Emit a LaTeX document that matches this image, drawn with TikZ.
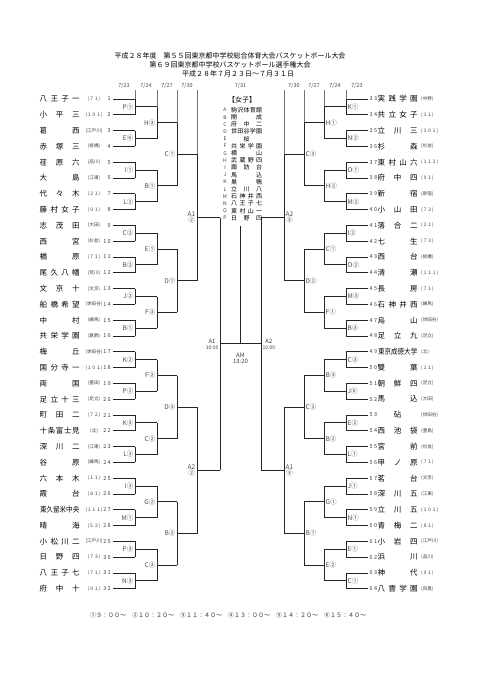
\documentclass[tikz,border=0pt]{standalone}
\usepackage{fontspec}
\usepackage{graphicx}
\newfontfamily\jp{Noto Sans CJK JP}
\newcommand\tnum[1]{\pgfmathtruncatemacro\tnA{int(#1/10)}\pgfmathtruncatemacro\tnB{mod(#1,10)}\ifnum#1<10 #1\else\tnA\hspace{1.3pt}\tnB\fi}
\tikzset{
 nm/.style={font=\jp\fontsize{7.5}{8}\selectfont, inner sep=0pt},
 cd/.style={font=\jp\fontsize{4.6}{5}\selectfont, inner sep=0pt, text=black!75},
 num/.style={font=\jp\fontsize{5.5}{6}\selectfont, inner sep=0pt, text=black!75},
 lb/.style={font=\jp\fontsize{6.5}{7}\selectfont, inner sep=0pt, text=black!70},
 lb4/.style={font=\jp\fontsize{6.5}{6.5}\selectfont, inner sep=0pt, text=black!70, align=center},
 br/.style={line width=0.9pt, black!85},
 sep/.style={line width=0.4pt, black!55},
 dt/.style={font=\jp\fontsize{5.5}{6}\selectfont, inner sep=0pt, text=black!70},
 hd/.style={font=\jp\fontsize{7}{8}\selectfont, inner sep=0pt},
 lgh/.style={font=\jp\fontsize{7}{8}\selectfont, inner sep=0pt},
 lgl/.style={font=\jp\fontsize{5}{6}\selectfont, inner sep=0pt, text=black!75},
 lgn/.style={font=\jp\fontsize{6}{7}\selectfont, inner sep=0pt},
 fin/.style={font=\jp\fontsize{6}{6.5}\selectfont, inner sep=0pt, text=black!75, align=center},
}
\begin{document}
\begin{tikzpicture}[x=1pt,y=-1pt]
\useasboundingbox (0,0) rectangle (481,680);
\fill[white] (0,0) rectangle (481,680);
% header
\node[hd] (t1) at (230,56) {平成２８年度　第５５回東京都中学校総合体育大会バスケットボール大会};
\node[hd] (t2) at (230,65) {第６９回東京都中学校バスケットボール選手権大会};
\node[hd] (t3) at (238,73.5) {平成２８年７月２３日～７月３１日};
% dates
\foreach \x/\d [count=\n] in {124/{7/23},146/{7/24},167/{7/27},187/{7/30},240.5/{7/31},294/{7/30},314/{7/27},335/{7/24},357/{7/23}}{
 \node[dt] (d\n) at (\x,86) {\d};
}
% separators
\draw[sep] (135,90) -- (135,99) (157,90) -- (157,106.9) (177,90) -- (177,122.7) (197,90) -- (197,154.3);
\draw[sep] (346,90) -- (346,99) (324,90) -- (324,106.9) (304,90) -- (304,122.7) (284,90) -- (284,154.3);
% left teams
\foreach \i/\nm/\cd in {
 1/{八\hfill 王\hfill 子\hfill 一}/{(７１)},
 2/{小\hfill 平\hfill 三}/{(１０１)},
 3/{葛\hfill 西}/{(江戸川)},
 4/{赤\hfill 塚\hfill 三}/{(板橋)},
 5/{荏\hfill 原\hfill 六}/{(品川)},
 6/{大\hfill 島}/{(江東)},
 7/{代\hfill 々\hfill 木}/{(２１)},
 8/{藤\hfill 村\hfill 女\hfill 子}/{(９１)},
 9/{志\hfill 茂\hfill 田}/{(大田)},
 10/{西\hfill 宮}/{(杉並)},
 11/{楢\hfill 原}/{(７１)},
 12/{尾\hfill 久\hfill 八\hfill 幡}/{(荒川)},
 13/{文\hfill 京\hfill 十}/{(文京)},
 14/{船\hfill 橋\hfill 希\hfill 望}/{(世田谷)},
 15/{中\hfill 村}/{(練馬)},
 16/{共\hfill 栄\hfill 学\hfill 園}/{(葛飾)},
 17/{梅\hfill 丘}/{(世田谷)},
 18/{国\hfill 分\hfill 寺\hfill 一}/{(１０１)},
 19/{両\hfill 国}/{(墨田)},
 20/{足\hfill 立\hfill 十\hfill 三}/{(足立)},
 21/{町\hfill 田\hfill 二}/{(７２)},
 22/{十\hfill 条\hfill 富\hfill 士\hfill 見}/{(北)},
 23/{深\hfill 川\hfill 二}/{(江東)},
 24/{谷\hfill 原}/{(練馬)},
 25/{六\hfill 本\hfill 木}/{(１１)},
 26/{霞\hfill 台}/{(８１)},
 27/{\scalebox{0.87}[1]{東久留米中央}}/{(１１１)},
 28/{晴\hfill 海}/{(５３)},
 29/{小\hfill 松\hfill 川\hfill 二}/{(江戸川)},
 30/{日\hfill 野\hfill 四}/{(７３)},
 31/{八\hfill 王\hfill 子\hfill 七}/{(７１)},
 32/{府\hfill 中\hfill 十}/{(９１)}}{
 \pgfmathsetmacro{\yy}{99+(\i-1)*15.8}
 \node[nm, anchor=west] (L\i) at (39.5,\yy) {\makebox[40pt]{\nm}};
 \node[cd] (LC\i) at (94,\yy) {\cd};
 \node[num, anchor=east] (LN\i) at (111,\yy) {\tnum{\i}};
 \draw[br] (113,\yy) -- (135,\yy);
}
% right teams
\foreach \i/\nm/\cd in {
 33/{実\hfill 践\hfill 学\hfill 園}/{(中野)},
 34/{共\hfill 立\hfill 女\hfill 子}/{(１１)},
 35/{立\hfill 川\hfill 三}/{(１０１)},
 36/{杉\hfill 森}/{(杉並)},
 37/{東\hfill 村\hfill 山\hfill 六}/{(１１２)},
 38/{府\hfill 中\hfill 四}/{(９１)},
 39/{新\hfill 宿}/{(新宿)},
 40/{小\hfill 山\hfill 田}/{(７２)},
 41/{落\hfill 合\hfill 二}/{(２１)},
 42/{七\hfill 生}/{(７３)},
 43/{西\hfill 台}/{(板橋)},
 44/{清\hfill 瀬}/{(１１１)},
 45/{長\hfill 房}/{(７１)},
 46/{石\hfill 神\hfill 井\hfill 西}/{(練馬)},
 47/{烏\hfill 山}/{(世田谷)},
 48/{足\hfill 立\hfill 九}/{(足立)},
 49/{\scalebox{0.87}[1]{東京成徳大学}}/{(北)},
 50/{雙\hfill 葉}/{(１１)},
 51/{朝\hfill 鮮\hfill 四}/{(足立)},
 52/{馬\hfill 込}/{(大田)},
 53/{\hfill 砧\hfill}/{(世田谷)},
 54/{西\hfill 池\hfill 袋}/{(豊島)},
 55/{宮\hfill 前}/{(杉並)},
 56/{甲\hfill ノ\hfill 原}/{(７１)},
 57/{茗\hfill 台}/{(文京)},
 58/{深\hfill 川\hfill 五}/{(江東)},
 59/{立\hfill 川\hfill 五}/{(１０１)},
 60/{青\hfill 梅\hfill 二}/{(８１)},
 61/{小\hfill 岩\hfill 四}/{(江戸川)},
 62/{浜\hfill 川}/{(品川)},
 63/{神\hfill 代}/{(９１)},
 64/{八\hfill 雲\hfill 学\hfill 園}/{(目黒)}}{
 \pgfmathsetmacro{\yy}{99+(\i-33)*15.8}
 \draw[br] (346,\yy) -- (368,\yy);
 \node[num, anchor=west] (RN\i) at (369.5,\yy) {\tnum{\i}};
 \node[nm, anchor=west] (R\i) at (377.5,\yy) {\makebox[40pt]{\nm}};
 \node[cd, anchor=west] (RC\i) at (421,\yy) {\cd};
}
% left bracket
\foreach \k/\lab in {1/P①,2/E⑥,3/I①,4/L②,5/C②,6/B②,7/J②,8/B①,9/K②,10/P②,11/K③,12/L③,13/I③,14/M①,15/P③,16/N③}{
 \pgfmathsetmacro{\ya}{99+(2*\k-2)*15.8}
 \pgfmathsetmacro{\yb}{\ya+15.8}
 \pgfmathsetmacro{\ym}{\ya+7.9}
 \draw[br] (135,\ya) -- (135,\yb) (135,\ym) -- (157,\ym);
 \node[lb, anchor=east] (LA\k) at (133.5,\ym) {\lab};
}
\foreach \k/\lab in {1/H③,2/B①,3/E①,4/F③,5/F②,6/C②,7/G②,8/C③}{
 \pgfmathsetmacro{\ya}{99+(4*\k-4)*15.8+7.9}
 \pgfmathsetmacro{\yb}{\ya+31.6}
 \pgfmathsetmacro{\ym}{\ya+15.8}
 \draw[br] (157,\ya) -- (157,\yb) (157,\ym) -- (177,\ym);
 \node[lb, anchor=east] (LB\k) at (155.5,\ym) {\lab};
}
\foreach \k/\lab in {1/C①,2/D①,3/D③,4/B②}{
 \pgfmathsetmacro{\ya}{99+(8*\k-8)*15.8+23.7}
 \pgfmathsetmacro{\yb}{\ya+63.2}
 \pgfmathsetmacro{\ym}{\ya+31.6}
 \draw[br] (177,\ya) -- (177,\yb) (177,\ym) -- (197,\ym);
 \node[lb, anchor=east] (LC\k) at (175.5,\ym) {\lab};
}
\foreach \k/\lab in {1/{A1\\②},2/{A2\\②}}{
 \pgfmathsetmacro{\ya}{99+(16*\k-16)*15.8+55.3}
 \pgfmathsetmacro{\yb}{\ya+126.4}
 \pgfmathsetmacro{\ym}{\ya+63.2}
 \draw[br] (197,\ya) -- (197,\yb) (197,\ym) -- (220,\ym);
 \node[lb4, anchor=east] (LD\k) at (195.5,\ym) {\lab};
}
% right bracket
\foreach \k/\lab in {1/K①,2/N②,3/O①,4/M②,5/I②,6/O②,7/M③,8/B③,9/C③,10/J⑥,11/E②,12/L①,13/J①,14/N①,15/E①,16/C①}{
 \pgfmathsetmacro{\ya}{99+(2*\k-2)*15.8}
 \pgfmathsetmacro{\yb}{\ya+15.8}
 \pgfmathsetmacro{\ym}{\ya+7.9}
 \draw[br] (346,\ya) -- (346,\yb) (346,\ym) -- (324,\ym);
 \node[lb, anchor=west] (RA\k) at (347.5,\ym) {\lab};
}
\foreach \k/\lab in {1/H①,2/H②,3/C①,4/F①,5/B③,6/B②,7/G①,8/E②}{
 \pgfmathsetmacro{\ya}{99+(4*\k-4)*15.8+7.9}
 \pgfmathsetmacro{\yb}{\ya+31.6}
 \pgfmathsetmacro{\ym}{\ya+15.8}
 \draw[br] (324,\ya) -- (324,\yb) (324,\ym) -- (304,\ym);
 \node[lb, anchor=west] (RB\k) at (325.5,\ym) {\lab};
}
\foreach \k/\lab in {1/C③,2/D②,3/C②,4/B①}{
 \pgfmathsetmacro{\ya}{99+(8*\k-8)*15.8+23.7}
 \pgfmathsetmacro{\yb}{\ya+63.2}
 \pgfmathsetmacro{\ym}{\ya+31.6}
 \draw[br] (304,\ya) -- (304,\yb) (304,\ym) -- (284,\ym);
 \node[lb, anchor=west] (RC\k) at (305.5,\ym) {\lab};
}
\foreach \k/\lab in {1/{A2\\③},2/{A1\\③}}{
 \pgfmathsetmacro{\ya}{99+(16*\k-16)*15.8+55.3}
 \pgfmathsetmacro{\yb}{\ya+126.4}
 \pgfmathsetmacro{\ym}{\ya+63.2}
 \draw[br] (284,\ya) -- (284,\yb) (284,\ym) -- (261,\ym);
 \node[lb4, anchor=west] (RD\k) at (285.5,\ym) {\lab};
}
% semifinals and final
\coordinate (sl1) at (220,217.5); \coordinate (sl2) at (220,470.3);
\coordinate (sr1) at (261,217.5); \coordinate (sr2) at (261,470.3);
\coordinate (fl) at (220,343.9); \coordinate (fr) at (261,343.9);
\coordinate (fm) at (240.5,343.9); \coordinate (ft) at (240.5,226);
\draw[br] (sl1) -- (sl2) (sr1) -- (sr2) (fl) -- (fr) (ft) -- (fm);
\node[fin, anchor=east] (sfa) at (218.5,344.5) {A1\\{\fontsize{5}{5.5}\selectfont 10:00}};
\node[fin, anchor=west] (sfb) at (262.5,344.5) {A2\\{\fontsize{5}{5.5}\selectfont 10:00}};
\node[fin, anchor=north] (fam) at (240.5,352.5) {AM\\13:20};
% legend
\node[lgh] (lgt) at (242,100) {【女子】};
\foreach \j/\L/\nm in {
 0/A/{駒\hfill 沢\hfill 体\hfill 育\hfill 館},
 1/B/{開\hfill 成},
 2/C/{府\hfill 中\hfill 二},
 3/D/{世\hfill 田\hfill 谷\hfill 学\hfill 園},
 4/E/{\hfill 桜\hfill},
 5/F/{共\hfill 栄\hfill 学\hfill 園},
 6/G/{横\hfill 山},
 7/H/{武\hfill 蔵\hfill 野\hfill 四},
 8/I/{諏\hfill 訪\hfill 台},
 9/J/{馬\hfill 込},
 10/K/{巣\hfill 鴨},
 11/L/{立\hfill 川\hfill 八},
 12/M/{石\hfill 神\hfill 井\hfill 西},
 13/N/{八\hfill 王\hfill 子\hfill 七},
 14/O/{東\hfill 村\hfill 山\hfill 一},
 15/P/{日\hfill 野\hfill 四}}{
 \pgfmathsetmacro{\yy}{110+\j*7.2}
 \node[lgl] (lg\L) at (225,\yy) {\L};
 \node[lgn, anchor=west] (lgn\L) at (231,\yy) {\makebox[31pt]{\nm}};
}
% footnote
\node[font=\jp\fontsize{6}{7}\selectfont, inner sep=0pt, text=black!80] (foot) at (228,615) {①９：００～\hspace{6pt}②１０：２０～\hspace{6pt}③１１：４０～\hspace{6pt}④１３：００～\hspace{6pt}⑤１４：２０～\hspace{6pt}⑥１５：４０～};
\end{tikzpicture}
\end{document}
